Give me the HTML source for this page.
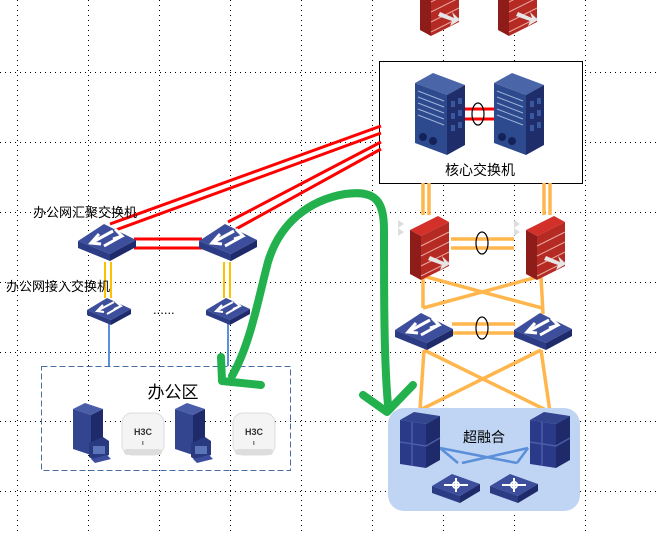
<!DOCTYPE html>
<html><head><meta charset="utf-8"><style>
html,body{margin:0;padding:0;background:#fff;}
svg{display:block;}
text{font-family:"Liberation Sans","Noto Sans CJK SC",sans-serif;fill:#000;}
</style></head><body>
<svg width="656" height="533" viewBox="0 0 656 533" xmlns="http://www.w3.org/2000/svg">
<defs>
  <g id="sw">
    <polygon points="-29,0 -3,-17 29,-1 3,13" fill="#3d4f9c"/>
    <polygon points="-29,0 3,13 3,20 -29,7" fill="#2b3b84"/>
    <polygon points="3,13 29,-1 29,6 3,20" fill="#1e2a6a"/>
    <g stroke="#fff" stroke-width="3" fill="none">
      <path d="M-16,2 L6,-10 M-3,5 L15,-5"/>
      <path d="M-8,-7 L-16,2 L-6,3"/>
      <path d="M6,-2 L15,-5 L8,-12"/>
    </g>
  </g>
  <g id="asw">
    <polygon points="-22,0 -2,-12 22,-1 2,10" fill="#3d4f9c"/>
    <polygon points="-22,0 2,10 2,15 -22,5" fill="#2b3b84"/>
    <polygon points="2,10 22,-1 22,4 2,15" fill="#1e2a6a"/>
    <g stroke="#fff" stroke-width="2" fill="none">
      <path d="M-12,1 L5,-8 M-2,4 L12,-4 M-6,-5 L-12,1 L-5,2 M5,-1 L12,-4 L6,-9"/>
    </g>
  </g>
  <g id="fw">
    <polygon points="-12,-10 -6,-6 -12,-2 -6,2 -12,6" fill="#ddd"/>
    <polygon points="0,0 28,-14 39,-8 11,6" fill="#d3302a"/>
    <polygon points="0,0 11,6 11,50 0,44" fill="#8e1c18"/>
    <polygon points="11,6 39,-8 39,36 11,50" fill="#b52a23"/>
    <g stroke="#e8a8a0" stroke-width="1" fill="none">
      <path d="M11,16 L39,2 M11,26 L39,12 M11,36 L39,22 M11,46 L39,32"/>
    </g>
    <polygon points="20,26 34,32 32,26 40,34 30,40 32,35 18,30" fill="#e6e6e6"/>
  </g>
  <g id="core">
    <polygon points="0,10 18,0 50,12 32,22" fill="#4a66a8"/>
    <polygon points="0,10 32,22 32,82 0,70" fill="#2e4a8e"/>
    <polygon points="32,22 50,12 50,72 32,82" fill="#1f2e6a"/>
    <g stroke="#9fb3d8" stroke-width="1">
      <path d="M3,18 L29,28 M3,24 L29,34 M3,30 L29,40 M3,36 L29,46 M3,42 L29,52"/>
    </g>
    <g fill="#14225a"><circle cx="8" cy="64" r="4"/><circle cx="18" cy="68" r="4"/></g>
    <g fill="#3a58a0"><rect x="36" y="28" width="4" height="6"/><rect x="43" y="25" width="4" height="6"/><rect x="36" y="40" width="4" height="6"/><rect x="43" y="37" width="4" height="6"/><rect x="36" y="52" width="4" height="6"/><rect x="43" y="49" width="4" height="6"/></g>
  </g>
  <g id="pc">
    <polygon points="0,6 12,0 30,6 18,12" fill="#4a5da8"/>
    <polygon points="0,6 18,12 18,52 0,46" fill="#33458f"/>
    <polygon points="18,12 30,6 30,46 18,52" fill="#1f2a6a"/>
    <polygon points="16,40 30,34 36,38 36,52 22,58 16,54" fill="#2a3a80"/>
    <rect x="20" y="43" width="12" height="8" fill="#5b75b8"/>
    <polygon points="18,56 34,52 38,56 22,60" fill="#3d4f9c"/>
  </g>
  <g id="ap">
    <rect x="0" y="0" width="42" height="42" rx="10" fill="#f4f4f4" stroke="#ddd"/>
    <rect x="2" y="36" width="38" height="6" rx="3" fill="#ddd"/>
    <text x="21" y="22" font-size="9" font-weight="bold" text-anchor="middle" fill="#222" style="fill:#333">H3C</text>
    <rect x="20" y="28" width="1.5" height="4" fill="#888"/>
  </g>
  <g id="stk">
    <polygon points="0,8 14,0 40,4 26,12" fill="#33458f"/>
    <polygon points="0,8 26,12 26,56 0,52" fill="#2a3a88"/>
    <polygon points="26,12 40,4 40,48 26,56" fill="#1e2a6a"/>
    <path d="M0,30 L26,34 L40,26 M12,10 L12,54" stroke="#4a5da8" stroke-width="1.5" fill="none"/>
  </g>
  <g id="rt">
    <polygon points="-24,0 -4,-12 24,-2 4,10" fill="#3d4f9c"/>
    <polygon points="-24,0 4,10 4,17 -24,7" fill="#2b3b84"/>
    <polygon points="4,10 24,-2 24,5 4,17" fill="#1e2a6a"/>
    <g stroke="#fff" stroke-width="2" fill="none"><path d="M-12,-1 L12,-1 M0,-8 L0,6"/><circle cx="0" cy="-1" r="3"/></g>
  </g>
</defs>

<!-- dotted grid -->
<g stroke="#000" stroke-width="1" stroke-dasharray="1,4">
  <line x1="17.5" y1="0" x2="17.5" y2="533"/><line x1="88.5" y1="0" x2="88.5" y2="533"/>
  <line x1="159.5" y1="0" x2="159.5" y2="533"/><line x1="230.5" y1="0" x2="230.5" y2="533"/>
  <line x1="301.5" y1="0" x2="301.5" y2="533"/><line x1="372.5" y1="0" x2="372.5" y2="533"/>
  <line x1="443.5" y1="0" x2="443.5" y2="533"/><line x1="514.5" y1="0" x2="514.5" y2="533"/>
  <line x1="585.5" y1="0" x2="585.5" y2="533"/>
  <line x1="0" y1="72.5" x2="656" y2="72.5"/><line x1="0" y1="142.5" x2="656" y2="142.5"/>
  <line x1="0" y1="212.5" x2="656" y2="212.5"/><line x1="0" y1="282.5" x2="656" y2="282.5"/>
  <line x1="0" y1="352.5" x2="656" y2="352.5"/><line x1="0" y1="421.5" x2="656" y2="421.5"/>
  <line x1="0" y1="491.5" x2="656" y2="491.5"/>
</g>

<!-- top firewalls -->
<use href="#fw" x="420" y="-14"/>
<use href="#fw" x="498" y="-14"/>

<!-- core box -->
<rect x="379.5" y="61.5" width="203" height="122" fill="#fff" stroke="#000"/>
<path d="M465,109 H495 M465,119 H495" stroke="#f00" stroke-width="3"/>
<ellipse cx="478" cy="114" rx="6" ry="11" fill="none" stroke="#000" stroke-width="1.2"/>
<use href="#core" x="415" y="73"/>
<use href="#core" x="494" y="73"/>
<text x="480" y="175" font-size="14" text-anchor="middle">核心交换机</text>

<!-- red uplinks -->
<g stroke="#f00" stroke-width="3">
  <line x1="381" y1="126" x2="110" y2="224"/>
  <line x1="381" y1="133" x2="113" y2="231"/>
  <line x1="381" y1="142" x2="228" y2="222"/>
  <line x1="381" y1="149" x2="236" y2="229"/>
  <line x1="134" y1="239" x2="202" y2="239"/>
  <line x1="134" y1="248" x2="202" y2="248"/>
</g>

<!-- yellow access links -->
<g stroke="#ffc000" stroke-width="2">
  <line x1="105" y1="262" x2="105" y2="298"/><line x1="111" y1="262" x2="111" y2="298"/>
  <line x1="224" y1="262" x2="224" y2="298"/><line x1="230" y1="262" x2="230" y2="298"/>
</g>
<g stroke="#5b8fd9" stroke-width="2">
  <line x1="109" y1="323" x2="109" y2="366"/><line x1="228" y1="323" x2="228" y2="366"/>
</g>

<use href="#sw" x="107" y="241"/>
<use href="#sw" x="228" y="241"/>
<use href="#asw" x="109" y="310"/>
<use href="#asw" x="228" y="310"/>
<text x="33" y="217" font-size="13">办公网汇聚交换机</text>
<text x="6" y="291" font-size="13">办公网接入交换机</text>
<text x="153" y="314" font-size="13">......</text>

<!-- office area -->
<rect x="41.5" y="366.5" width="249" height="104" fill="none" stroke="#4a6fa5" stroke-dasharray="6,3"/>
<text x="173" y="398" font-size="17" text-anchor="middle">办公区</text>
<use href="#pc" x="73" y="403"/>
<use href="#pc" x="175" y="403"/>
<use href="#ap" x="122" y="413"/>
<use href="#ap" x="233" y="413"/>

<!-- orange links -->
<g stroke="#ffb74d" stroke-width="3.5" fill="none">
  <line x1="423" y1="183" x2="423" y2="215"/><line x1="429" y1="183" x2="429" y2="215"/>
  <line x1="544" y1="183" x2="544" y2="215"/><line x1="550" y1="183" x2="550" y2="215"/>
  <line x1="451" y1="239" x2="514" y2="239"/><line x1="451" y1="248" x2="514" y2="248"/>
  <line x1="423" y1="276" x2="423" y2="308"/><line x1="423" y1="276" x2="542" y2="308"/>
  <line x1="541" y1="276" x2="543" y2="314"/><line x1="541" y1="276" x2="423" y2="308"/>
  <line x1="452" y1="324" x2="515" y2="324"/><line x1="452" y1="333" x2="515" y2="333"/>
  <line x1="424" y1="350" x2="420" y2="410"/><line x1="424" y1="350" x2="550" y2="412"/>
  <line x1="541" y1="350" x2="550" y2="412"/><line x1="541" y1="350" x2="420" y2="410"/>
</g>
<ellipse cx="482" cy="243" rx="6" ry="11" fill="none" stroke="#000" stroke-width="1.2"/>
<use href="#fw" x="410" y="230"/>
<use href="#fw" x="526" y="230"/>
<use href="#sw" x="424" y="330"/>
<use href="#sw" x="543" y="330"/>
<ellipse cx="482" cy="328" rx="6" ry="11" fill="none" stroke="#000" stroke-width="1.2"/>

<!-- hyperconverged -->
<rect x="388" y="408" width="192" height="103" rx="16" fill="#c0d5f3"/>
<g stroke="#5b8fd9" stroke-width="2.5">
  <line x1="440" y1="448" x2="458" y2="463"/><line x1="440" y1="448" x2="517" y2="463"/>
  <line x1="528" y1="448" x2="517" y2="463"/><line x1="528" y1="448" x2="462" y2="463"/>
</g>
<use href="#stk" x="400" y="412"/>
<use href="#stk" x="530" y="412"/>
<use href="#rt" x="456" y="486"/>
<use href="#rt" x="514" y="486"/>
<text x="484" y="442" font-size="14" text-anchor="middle">超融合</text>

<!-- green arrow -->
<g stroke="#22b14c" stroke-width="8" fill="none" stroke-linecap="round" stroke-linejoin="round">
  <path d="M232,376 C250,345 258,300 268,262 C280,222 310,200 345,194 C375,190 384,200 384,230 C384,300 384,360 388,405"/>
  <path d="M221,357 L222,381 L261,385"/>
  <path d="M363,395 L387,412 L413,385"/>
</g>
</svg>
</body></html>
